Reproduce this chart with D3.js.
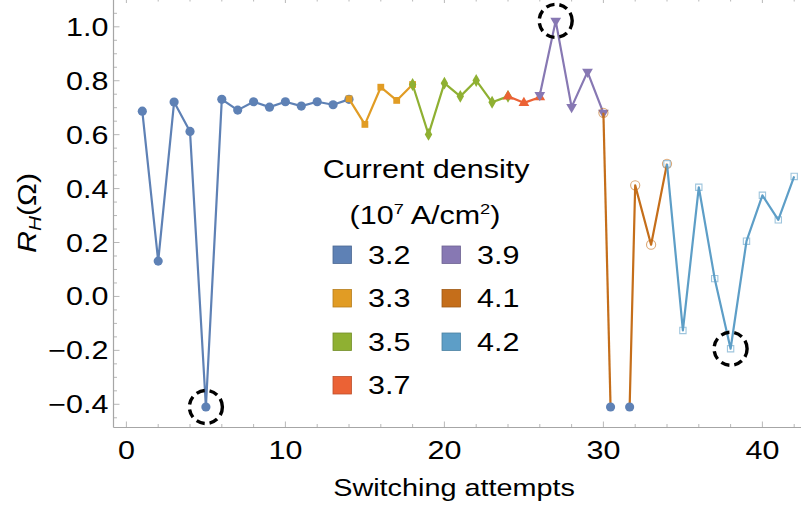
<!DOCTYPE html>
<html>
<head>
<meta charset="utf-8">
<script src="https://cdn.jsdelivr.net/npm/d3@7"></script>
<style>
  html, body { margin: 0; padding: 0; background: #fff; }
  svg { display: block; }
  text { font-family: "Liberation Sans", Arial, sans-serif; fill: #000; }
</style>
</head>
<body>
<svg id="chart" width="801" height="509"></svg>
<script>
// ---- data ----
const seriesNames = ["3.2", "3.3", "3.5", "3.7", "3.9", "4.1", "4.2"];
const seriesColors = ["#5E81B5", "#E19C24", "#8FB032", "#EB6235", "#8778B3", "#C56E1A", "#5D9EC7"];

const s32x = [1, 2, 3, 4, 5, 6, 7, 8, 9, 10, 11, 12, 13, 14];
const s32y = [0.687, 0.131, 0.721, 0.612, -0.410, 0.731, 0.691, 0.722, 0.702, 0.722, 0.706, 0.722, 0.711, 0.731];

const s33x = [14, 15, 16, 17, 18];
const s33y = [0.733, 0.638, 0.776, 0.727, 0.786];

const s35x = [18, 19, 20, 21, 22, 23, 24];
const s35y = [0.786, 0.601, 0.791, 0.742, 0.801, 0.720, 0.742];

const s37x = [24, 25, 26];
const s37y = [0.742, 0.718, 0.739];

const s39x = [26, 27, 28, 29, 30];
const s39y = [0.747, 1.022, 0.702, 0.833, 0.681];

const s41xa = [30, 30.45];
const s41ya = [0.681, -0.410];
const s41xb = [31.65, 32, 33, 34];
const s41yb = [-0.410, 0.412, 0.192, 0.492];

const s42x = [34, 35, 36, 37, 38, 39, 40, 41, 42];
const s42y = [0.492, -0.126, 0.405, 0.066, -0.194, 0.205, 0.375, 0.284, 0.445];

// filled 3.2-style points at the bottom of the 4.1 drop
const lowX = [30.45, 31.65];
const lowY = [-0.410, -0.410];

// dashed circles highlight these points
const markX = [5, 27, 38];
const markY = [-0.410, 1.022, -0.194];

const xTicks = [0, 10, 20, 30, 40];
const yTicks = [-0.4, -0.2, 0.0, 0.2, 0.4, 0.6, 0.8, 1.0];

// ---- layout ----
const svg = d3.select("#chart");
const W = 801, H = 509;
const left = 113.5, bottom = 427.5;
const SX = 1.22; // horizontal stretch of the text in the reference
const FS = 25;

const x = d3.scaleLinear().domain([0, 40]).range([126.4, 762.4]);
const y = d3.scaleLinear().domain([-0.4, 1.0]).range([404.3, 26.8]);

const zip = (xs, ys) => xs.map((v, i) => [v, ys[i]]);

// ---- frame & ticks ----
const axisColor = "#a6a6a6";
const g = svg.append("g");

g.append("line").attr("x1", left).attr("x2", left).attr("y1", 0).attr("y2", bottom)
  .attr("stroke", axisColor).attr("stroke-width", 1.2);
g.append("line").attr("x1", left).attr("x2", W).attr("y1", bottom).attr("y2", bottom)
  .attr("stroke", axisColor).attr("stroke-width", 1.2);

const yMinor = d3.range(-0.45, 1.1001, 0.05).filter(v => y(v) >= 0 && y(v) <= bottom);
yMinor.forEach(v => {
  const major = yTicks.some(t => Math.abs(t - v) < 1e-6);
  g.append("line").attr("x1", left).attr("x2", left + (major ? 6 : 3.5))
    .attr("y1", y(v)).attr("y2", y(v)).attr("stroke", axisColor).attr("stroke-width", 0.8);
});
const xMinor = d3.range(0, 43, 2);
xMinor.forEach(v => {
  const major = xTicks.includes(v);
  g.append("line").attr("x1", x(v)).attr("x2", x(v))
    .attr("y1", bottom).attr("y2", bottom - (major ? 6 : 3.5))
    .attr("stroke", axisColor).attr("stroke-width", 0.8);
  g.append("line").attr("x1", x(v)).attr("x2", x(v))
    .attr("y1", 0).attr("y2", major ? 3 : 1.5)
    .attr("stroke", axisColor).attr("stroke-width", 0.8);
});

function stretchedText(parent, tx, ty, str, anchor, size, sx) {
  return parent.append("text")
    .attr("transform", `translate(${tx},${ty}) scale(${sx || SX},1)`)
    .attr("text-anchor", anchor)
    .attr("font-size", size)
    .text(str);
}

const fmtY = v => (v < 0 ? "\u2212" : "") + Math.abs(v).toFixed(1);
yTicks.forEach(v => stretchedText(g, 108.5, y(v) + 9, fmtY(v), "end", FS));
xTicks.forEach(v => stretchedText(g, x(v), 458.5, String(v), "middle", FS));

// axis titles
stretchedText(g, 454, 496, "Switching attempts", "middle", 24, 1.2);

const yt = g.append("text")
  .attr("transform", `translate(36,213) rotate(-90) scale(1.22,1)`)
  .attr("text-anchor", "middle").attr("font-size", 25);
yt.append("tspan").attr("font-style", "italic").text("R");
yt.append("tspan").attr("font-style", "italic").attr("font-size", 17).attr("dy", 5).text("H");
yt.append("tspan").attr("dy", -5).text("(\u03A9)");

// ---- series ----
const line = d3.line().x(d => x(d[0])).y(d => y(d[1]));
const plot = svg.append("g");

function drawLine(pts, ci) {
  plot.append("path").attr("d", line(pts)).attr("fill", "none")
    .attr("stroke", seriesColors[ci]).attr("stroke-width", 2.2)
    .attr("stroke-linejoin", "round");
}

const sym = {
  circle: d3.symbol().type(d3.symbolCircle).size(66),
  square: d3.symbol().type(d3.symbolSquare).size(46),
  diamond: d3.symbol().type(d3.symbolDiamond).size(48),
  tri: d3.symbol().type(d3.symbolTriangle).size(50),
  ocircle: d3.symbol().type(d3.symbolCircle).size(66),
  osquare: d3.symbol().type(d3.symbolSquare).size(40)
};

function drawMarkers(pts, ci, kind) {
  pts.forEach(p => {
    const m = plot.append("path").attr("transform", `translate(${x(p[0])},${y(p[1])})` + (kind === "tridown" ? " rotate(180)" : ""));
    if (kind === "circle") m.attr("d", sym.circle()).attr("fill", seriesColors[ci]);
    else if (kind === "square") m.attr("d", sym.square()).attr("fill", seriesColors[ci]);
    else if (kind === "diamond") m.attr("d", sym.diamond()).attr("fill", seriesColors[ci]);
    else if (kind === "triup" || kind === "tridown") m.attr("d", sym.tri()).attr("fill", seriesColors[ci]);
    else if (kind === "ocircle") m.attr("d", sym.ocircle()).attr("fill", "none").attr("stroke", seriesColors[ci]).attr("stroke-opacity", 0.6).attr("stroke-width", 1.1);
    else if (kind === "osquare") m.attr("d", sym.osquare()).attr("fill", "none").attr("stroke", seriesColors[ci]).attr("stroke-opacity", 0.6).attr("stroke-width", 1.1);
  });
}

drawLine(zip(s32x, s32y), 0); drawMarkers(zip(s32x, s32y), 0, "circle");
drawLine(zip(s33x, s33y), 1); drawMarkers(zip(s33x, s33y), 1, "square");
drawLine(zip(s35x, s35y), 2); drawMarkers(zip(s35x, s35y), 2, "diamond");
drawLine(zip(s37x, s37y), 3); drawMarkers(zip(s37x, s37y), 3, "triup");
drawLine(zip(s39x, s39y), 4); drawMarkers(zip(s39x, s39y), 4, "tridown");
drawLine(zip(s41xa, s41ya), 5); drawLine(zip(s41xb, s41yb), 5);
drawMarkers([zip(s41xa, s41ya)[0]].concat(zip(s41xb, s41yb).slice(1)), 5, "ocircle");
drawLine(zip(s42x, s42y), 6); drawMarkers(zip(s42x, s42y), 6, "osquare");
drawMarkers(zip(lowX, lowY), 0, "circle");

zip(markX, markY).forEach(p => {
  plot.append("circle").attr("cx", x(p[0])).attr("cy", y(p[1])).attr("r", 16.5)
    .attr("fill", "none").attr("stroke", "#000").attr("stroke-width", 3.4)
    .attr("stroke-dasharray", "8.5,5");
});

// ---- legend ----
const lg = svg.append("g");
stretchedText(lg, 426, 177.5, "Current density", "middle", FS);
const l2 = lg.append("text")
  .attr("transform", `translate(425,224) scale(${SX},1)`)
  .attr("text-anchor", "middle").attr("font-size", FS);
l2.append("tspan").text("(10");
l2.append("tspan").attr("font-size", 15).attr("dy", -10).text("7");
l2.append("tspan").attr("dy", 10).text(" A/cm");
l2.append("tspan").attr("font-size", 15).attr("dy", -10).text("2");
l2.append("tspan").attr("dy", 10).text(")");

const colX = [333, 442];
const rowY = [246, 289.5, 333, 376.5];
seriesNames.forEach((name, i) => {
  const col = i < 4 ? 0 : 1;
  const row = i < 4 ? i : i - 4;
  const sx = colX[col], sy = rowY[row];
  const c = d3.color(seriesColors[i]);
  lg.append("rect").attr("x", sx).attr("y", sy).attr("width", 18.5).attr("height", 17.5)
    .attr("fill", seriesColors[i]).attr("stroke", c.darker(0.6)).attr("stroke-width", 0.8);
  stretchedText(lg, sx + 35, sy + 17.8, name, "start", FS);
});
</script>
</body>
</html>
